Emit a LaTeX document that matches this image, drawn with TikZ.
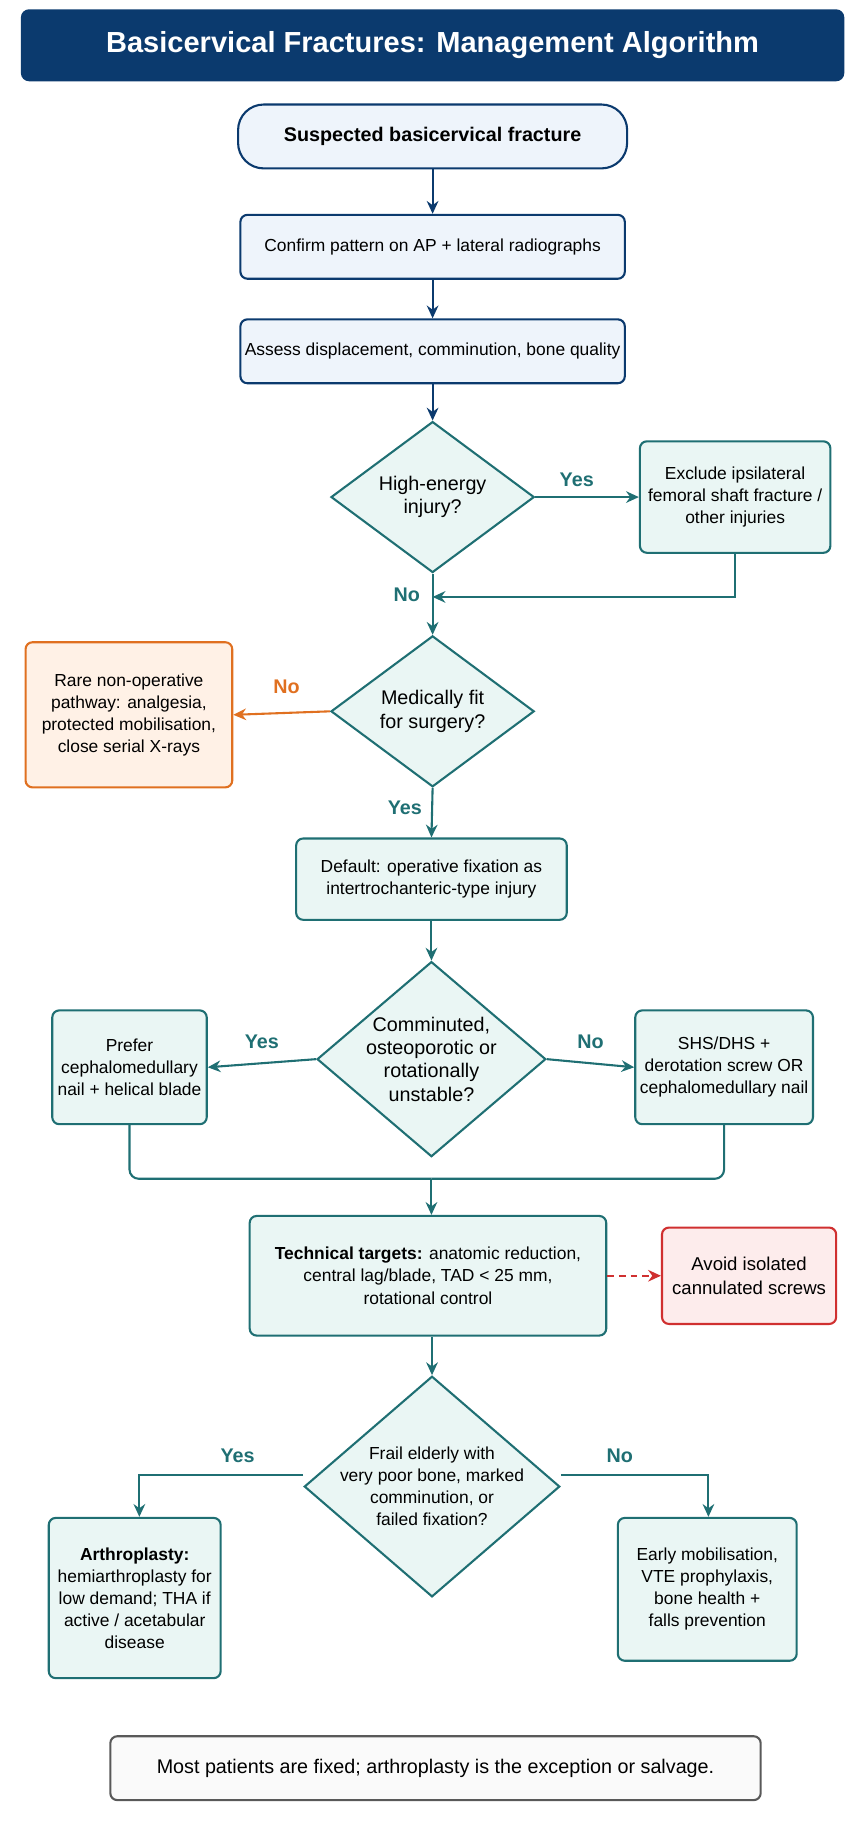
\documentclass[tikz,border=0pt]{standalone}
\usepackage{fontspec}
\setmainfont{Liberation Sans}
\usetikzlibrary{shapes.geometric,arrows.meta}
\definecolor{navy}{HTML}{0B3A6E}
\definecolor{lnavy}{HTML}{EEF4FB}
\definecolor{teal}{HTML}{1F6F73}
\definecolor{lteal}{HTML}{EAF6F4}
\definecolor{orng}{HTML}{E07020}
\definecolor{lorng}{HTML}{FFF1E6}
\definecolor{redc}{HTML}{D03030}
\definecolor{lred}{HTML}{FDECEC}
\begin{document}
\begin{tikzpicture}[x=1pt,y=-1pt,
  every node/.style={font=\fontsize{15}{19}\selectfont, align=center, inner sep=2pt},
  nbox/.style={draw=navy, fill=lnavy, line width=1.8pt, rounded corners=6pt},
  tbox/.style={draw=teal, fill=lteal, line width=1.8pt, rounded corners=6pt},
  dia/.style={diamond, draw=teal, fill=lteal, line width=1.8pt, inner sep=0pt},
  arr/.style={-{Stealth[length=11pt,width=10pt]}, line width=1.8pt},
  lab/.style={font=\fontsize{17}{19}\selectfont\bfseries, text=teal}]
\useasboundingbox (0,0) rectangle (744,1568);
\node[fill=navy, rounded corners=7pt, minimum width=709pt, minimum height=62pt, text=white, font=\fontsize{25}{28}\selectfont\bfseries] (title) at (372.5,39) {Basicervical Fractures: Management Algorithm};
\node[nbox, rounded corners=22pt, minimum width=335pt, minimum height=55pt, font=\fontsize{17}{19}\selectfont\bfseries] (start) at (372.5,117.5) {Suspected basicervical fracture};
\node[nbox, minimum width=331pt, minimum height=55pt] (conf) at (372.5,212.5) {Confirm pattern on AP + lateral radiographs};
\node[nbox, minimum width=331pt, minimum height=55pt] (ass) at (372.5,302.5) {Assess displacement, comminution, bone quality};
\node[dia, minimum width=175pt, minimum height=130pt] (d1) at (372.5,428) {};
\node[font=\fontsize{17}{20}\selectfont] at (d1) {High-energy\\injury?};
\node[tbox, minimum width=164pt, minimum height=96pt] (excl) at (633,428) {Exclude ipsilateral\\femoral shaft fracture /\\other injuries};
\node[dia, minimum width=175pt, minimum height=130pt] (d2) at (372.5,612.5) {};
\node[font=\fontsize{17}{20}\selectfont] at (d2) {Medically fit\\for surgery?};
\node[draw=orng, fill=lorng, line width=1.8pt, rounded corners=6pt, minimum width=178pt, minimum height=125pt] (rare) at (111,615.5) {Rare non-operative\\pathway: analgesia,\\protected mobilisation,\\close serial X-rays};
\node[tbox, minimum width=233pt, minimum height=70pt] (def) at (371.5,757) {Default: operative fixation as\\intertrochanteric-type injury};
\node[dia, minimum width=197pt, minimum height=168pt] (d3) at (371.5,912) {};
\node[font=\fontsize{17}{20}\selectfont] at (d3) {Comminuted,\\osteoporotic or\\rotationally\\unstable?};
\node[tbox, minimum width=133pt, minimum height=98pt] (pref) at (111.5,919) {Prefer\\cephalomedullary\\nail + helical blade};
\node[tbox, minimum width=153pt, minimum height=98pt] (shs) at (623.5,919) {SHS/DHS +\\derotation screw OR\\cephalomedullary nail};
\node[tbox, minimum width=307pt, minimum height=103pt] (tech) at (368.5,1098.5) {\textbf{Technical targets:} anatomic reduction,\\central lag/blade, TAD < 25 mm,\\rotational control};
\node[draw=redc, fill=lred, line width=1.8pt, rounded corners=6pt, minimum width=150pt, minimum height=83pt, font=\fontsize{16}{20}\selectfont] (avoid) at (645,1098.5) {Avoid isolated\\cannulated screws};
\node[dia, minimum width=220pt, minimum height=190pt] (d4) at (372,1280) {};
\node[font=\fontsize{15}{19}\selectfont] at (d4) {Frail elderly with\\very poor bone, marked\\comminution, or\\failed fixation?};
\node[tbox, minimum width=148pt, minimum height=138pt] (arth) at (116,1376) {\textbf{Arthroplasty:}\\hemiarthroplasty for\\low demand; THA if\\active / acetabular\\disease};
\node[tbox, minimum width=154pt, minimum height=123pt] (early) at (609,1368.5) {Early mobilisation,\\VTE prophylaxis,\\bone health +\\falls prevention};
\node[draw=gray!70!black, fill=gray!4, line width=1.8pt, rounded corners=6pt, minimum width=560pt, minimum height=55pt, font=\fontsize{17}{19}\selectfont] (note) at (375,1522.5) {Most patients are fixed; arthroplasty is the exception or salvage.};
% connectors
\draw[arr, navy] (start) -- (conf);
\draw[arr, navy] (conf) -- (ass);
\draw[arr, navy] (ass) -- (d1.north);
\draw[arr, teal] (d1.east) -- (excl.west) node[lab, pos=0.4, above=6pt] {Yes};
\coordinate (m1) at (372.5,514);
\draw[arr, teal] (excl.south) |- (m1);
\draw[arr, teal] (d1.south) -- (d2.north) node[lab, pos=0.35, left=8pt] {No};
\draw[arr, orng] (d2.west) -- (rare.east) node[font=\fontsize{17}{19}\selectfont\bfseries, text=orng, pos=0.45, above=14pt] {No};
\draw[arr, teal] (d2.south) -- (def.north) node[lab, pos=0.4, left=6pt] {Yes};
\draw[arr, teal] (def) -- (d3.north);
\draw[arr, teal] (d3.west) -- (pref.east) node[lab, pos=0.5, above=10pt] {Yes};
\draw[arr, teal] (d3.east) -- (shs.west) node[lab, pos=0.5, above=10pt] {No};
\coordinate (mg) at (371.5,1015);
\draw[teal, line width=1.8pt, rounded corners=8pt] (pref.south) |- (mg);
\draw[teal, line width=1.8pt, rounded corners=8pt] (shs.south) |- (mg);
\draw[arr, teal] (mg) -- (tech.north -| mg);
\draw[arr, redc, dash pattern=on 6pt off 4pt] (tech.east) -- (avoid.west);
\draw[arr, teal] (tech.south -| d4) -- (d4.north);
\coordinate (cl) at (120,1270);
\coordinate (cr) at (610,1270);
\draw[arr, teal] (d4.west |- cl) -- (cl) node[lab, pos=0.4, above=8pt] {Yes} -- (arth.north -| cl);
\draw[arr, teal] (d4.east |- cr) -- (cr) node[lab, pos=0.4, above=8pt] {No} -- (early.north -| cr);
\end{tikzpicture}
\end{document}
